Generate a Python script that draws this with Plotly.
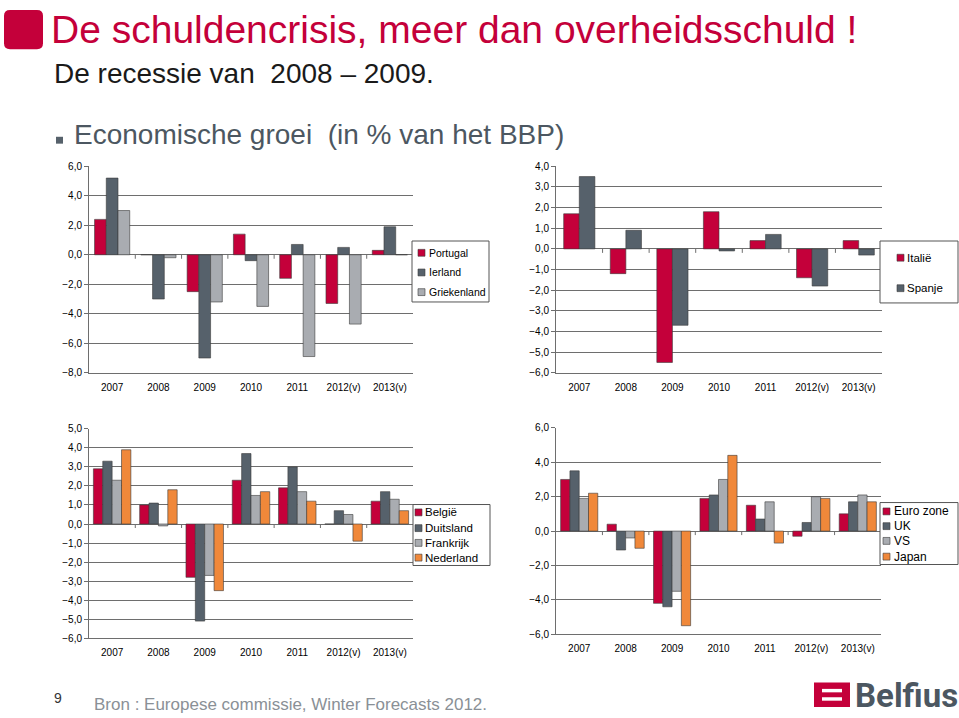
import plotly.graph_objects as go

W, H = 959, 718

years = ["2007", "2008", "2009", "2010", "2011", "2012(v)", "2013(v)"]

# Chart 1
portugal = [2.4, 0.0, -2.5, 1.4, -1.6, -3.3, 0.3]
ierland = [5.2, -3.0, -7.0, -0.4, 0.7, 0.5, 1.9]
griekenland = [3.0, -0.2, -3.2, -3.5, -6.9, -4.7, 0.0]
# Chart 2
italie = [1.7, -1.2, -5.5, 1.8, 0.4, -1.4, 0.4]
spanje = [3.5, 0.9, -3.7, -0.1, 0.7, -1.8, -0.3]
# Chart 3
belgie = [2.9, 1.0, -2.8, 2.3, 1.9, 0.0, 1.2]
duitsland = [3.3, 1.1, -5.1, 3.7, 3.0, 0.7, 1.7]
frankrijk = [2.3, -0.1, -2.7, 1.5, 1.7, 0.5, 1.3]
nederland = [3.9, 1.8, -3.5, 1.7, 1.2, -0.9, 0.7]
# Chart 4
eurozone = [3.0, 0.4, -4.2, 1.9, 1.5, -0.3, 1.0]
uk = [3.5, -1.1, -4.4, 2.1, 0.7, 0.5, 1.7]
vs = [1.9, -0.4, -3.5, 3.0, 1.7, 2.0, 2.1]
japan = [2.2, -1.0, -5.5, 4.4, -0.7, 1.9, 1.7]

RED = "#C4003A"
SLATE = "#56616B"
LGRAY = "#A9ACB1"
ORANGE = "#F0883A"
GRID = "#6E6E6E"
FONT = "Liberation Sans, Arial, sans-serif"


def px_x(p):
    return p / W


def px_y(p):
    return 1 - p / H


charts = [
    dict(series=[("Portugal", portugal, RED), ("Ierland", ierland, SLATE), ("Griekenland", griekenland, LGRAY)],
         suf="", xpx=(89, 413), ypx=(163, 373), yr=(-8, 6), dtick=2, group=0.76,
         box=(412, 239, 489, 301), sq=418, tx=428, iy=[251, 271, 291], lfont=10.5),
    dict(series=[("Italië", italie, RED), ("Spanje", spanje, SLATE)],
         suf="2", xpx=(556, 882), ypx=(163, 373), yr=(-6, 4), dtick=1, group=0.67,
         box=(880, 239, 958, 302), sq=897, tx=906, iy=[256, 287], lfont=11.5),
    dict(series=[("België", belgie, RED), ("Duitsland", duitsland, SLATE), ("Frankrijk", frankrijk, LGRAY), ("Nederland", nederland, ORANGE)],
         suf="3", xpx=(89, 413), ypx=(430, 643), yr=(-6, 5), dtick=1, group=0.81,
         box=(413, 507, 490, 569), sq=415, tx=424, iy=[515, 531, 546, 561], lfont=11.5),
    dict(series=[("Euro zone", eurozone, RED), ("UK", uk, SLATE), ("VS", vs, LGRAY), ("Japan", japan, ORANGE)],
         suf="4", xpx=(556, 881), ypx=(429, 639), yr=(-6, 6), dtick=2, group=0.80,
         box=(880, 505, 958, 568), sq=883, tx=893, iy=[514, 529, 544, 560], lfont=12),
]

fig = go.Figure()
shapes = []
annotations = []
layout = dict(
    width=W, height=H, margin=dict(l=0, r=0, t=0, b=0), autosize=False,
    paper_bgcolor="white", plot_bgcolor="white",
    separators=",.", showlegend=False, barmode="overlay",
    font=dict(family=FONT, size=10, color="#000000"),
)


def text(t, x, y, size, color, xanchor="left", yanchor="middle", weight="normal", family=FONT):
    annotations.append(dict(
        text=t, x=px_x(x), y=px_y(y), xref="paper", yref="paper",
        xanchor=xanchor, yanchor=yanchor, showarrow=False,
        font=dict(size=size, color=color, family=family, weight=weight),
    ))


for c in charts:
    suf = c["suf"]
    xa, ya = "x" + suf, "y" + suf
    n = len(c["series"])
    bw = c["group"] / n
    for k, (name, vals, col) in enumerate(c["series"]):
        fig.add_trace(go.Bar(
            x=years, y=vals, name=name, xaxis=xa, yaxis=ya,
            width=bw, offset=-c["group"] / 2 + k * bw,
            marker=dict(color=col, line=dict(color="#3a3a3a", width=0.6)),
        ))
    x0, x1 = c["xpx"]
    y0, y1 = c["ypx"]
    layout["xaxis" + suf] = dict(
        domain=[px_x(x0), px_x(x1)], anchor=ya, type="category",
        range=[-0.5, len(years) - 0.5],
        showgrid=False, showline=True, linecolor=GRID, linewidth=1,
        ticks="outside", ticklen=5, tickcolor="rgba(0,0,0,0)",
        tickfont=dict(size=10), fixedrange=True,
    )
    layout["yaxis" + suf] = dict(
        domain=[px_y(y1), px_y(y0)], anchor=xa, range=list(c["yr"]), dtick=c["dtick"],
        tick0=0, tickformat=".1f", showgrid=True, gridcolor=GRID, gridwidth=1,
        zeroline=True, zerolinecolor=GRID, zerolinewidth=1,
        showline=True, linecolor=GRID, linewidth=1,
        ticks="outside", ticklen=4, tickcolor=GRID, tickfont=dict(size=10),
        fixedrange=True,
    )
    # small ticks on the zero line between categories
    for i in range(len(years) - 1):
        shapes.append(dict(
            type="line", xref=xa, yref=ya, ysizemode="pixel", yanchor=0,
            x0=i + 0.5, x1=i + 0.5, y0=0, y1=-4,
            line=dict(color=GRID, width=1),
        ))
    # legend box
    bx0, by0, bx1, by1 = c["box"]
    shapes.append(dict(type="rect", xref="paper", yref="paper",
                       x0=px_x(bx0), x1=px_x(bx1), y0=px_y(by1), y1=px_y(by0),
                       fillcolor="white", line=dict(color="#555555", width=1)))
    for (name, vals, col), yy in zip(c["series"], c["iy"]):
        shapes.append(dict(type="rect", xref="paper", yref="paper",
                           x0=px_x(c["sq"]), x1=px_x(c["sq"] + 7),
                           y0=px_y(yy + 3.5), y1=px_y(yy - 3.5),
                           fillcolor=col, line=dict(color="#3a3a3a", width=0.6)))
        text(name, c["tx"] - 1, yy, c["lfont"], "#000000")

# Header decorations
r = 6
sx0, sy0, sx1, sy1 = 4, 4, 43, 44
path = ("M {a},{b} L {c},{b} Q {d},{b} {d},{e} L {d},{f} Q {d},{g} {c},{g} "
        "L {a},{g} Q {h},{g} {h},{f} L {h},{e} Q {h},{b} {a},{b} Z").format(
    a=px_x(sx0 + r), b=px_y(sy0), c=px_x(sx1 - r), d=px_x(sx1), e=px_y(sy0 + r),
    f=px_y(sy1 - r), g=px_y(sy1), h=px_x(sx0))
shapes += [
    dict(type="path", xref="paper", yref="paper", path=path,
         fillcolor=RED, line=dict(color=RED, width=0)),
    dict(type="rect", xref="paper", yref="paper",
         x0=px_x(56), x1=px_x(63), y0=px_y(140), y1=px_y(133),
         fillcolor="#56616B", line=dict(width=0)),
    dict(type="rect", xref="paper", yref="paper",
         x0=px_x(814), x1=px_x(850), y0=px_y(713), y1=px_y(688),
         fillcolor=RED, line=dict(width=0)),
    dict(type="rect", xref="paper", yref="paper",
         x0=px_x(822), x1=px_x(842), y0=px_y(698), y1=px_y(694.5),
         fillcolor="white", line=dict(width=0)),
    dict(type="rect", xref="paper", yref="paper",
         x0=px_x(822), x1=px_x(842), y0=px_y(706.5), y1=px_y(703),
         fillcolor="white", line=dict(width=0)),
]

text("De schuldencrisis, meer dan overheidsschuld !", 49, 24, 39, RED)
text("De recessie van  2008 – 2009.", 52, 69, 28, "#1a1a1a")
text("Economische groei  (in % van het BBP)", 72, 131, 28, "#4C5761")
text("9", 52, 704, 14, "#333333")
text("Bron : Europese commissie, Winter Forecasts 2012.", 92, 710, 17, "#8A9096")
text("Belfius", 853, 701, 33, "#4C5761", weight="bold", family="Roboto, Liberation Sans, sans-serif")

layout["shapes"] = shapes
layout["annotations"] = annotations
fig.update_layout(**layout)
fig.write_html(
    "out.html",
    config={"displayModeBar": False, "responsive": False},
    post_script=("document.documentElement.style.margin='0';"
                 "document.body.style.margin='0';"
                 "document.body.style.overflow='hidden';"
                 "document.documentElement.style.overflow='hidden';"
                 "var d=document.getElementById('{plot_id}');"
                 "d.style.position='fixed';d.style.top='0px';d.style.left='0px';"),
)
